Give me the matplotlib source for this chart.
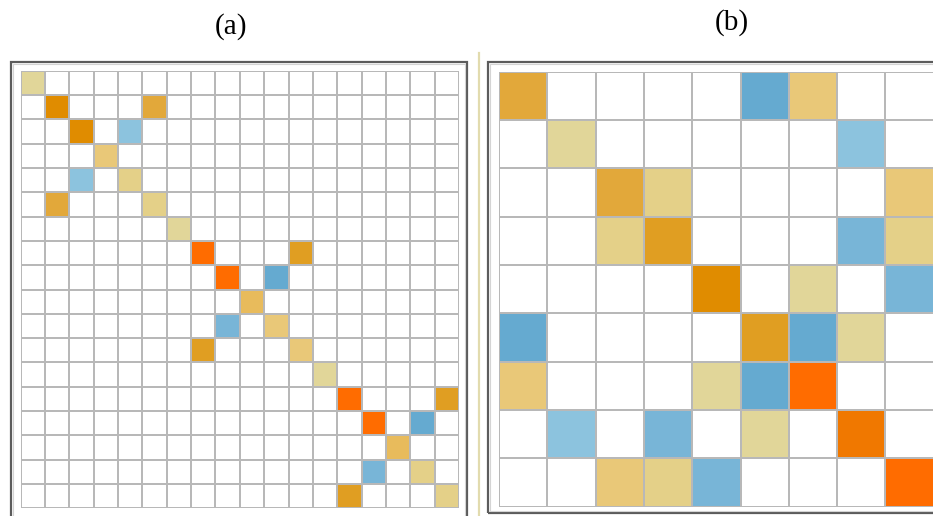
import numpy as np
import matplotlib
matplotlib.use("Agg")
from matplotlib import pyplot as plt
from matplotlib.colors import ListedColormap, BoundaryNorm
from matplotlib.patches import Rectangle
from matplotlib.lines import Line2D

W, H = 933, 516

# colour levels: negative = blue shades, 0 = empty, positive = khaki -> red-orange
level_values = [-3, -2, -1, 0, 1, 2, 3, 4, 5, 6, 7, 8, 9]
level_colors = ["#65aad0", "#78b5d7", "#8cc3de", "#ffffff",
                "#e1d699", "#e4d088", "#e9c878", "#e8bb5c", "#e2a83a",
                "#e09e22", "#e08c00", "#f07800", "#ff6c00"]

# panel (a): 18 x 18 matrix, three 6 x 6 blocks along the diagonal
a_size = 18
a_rows = [0, 1, 1, 2, 2, 3, 4, 4, 5, 5, 6, 7, 7, 8, 8, 9, 10, 10, 11, 11,
          12, 13, 13, 14, 14, 15, 16, 16, 17, 17]
a_cols = [0, 1, 5, 2, 4, 3, 2, 4, 1, 5, 6, 7, 11, 8, 10, 9, 8, 10, 7, 11,
          12, 13, 17, 14, 16, 15, 14, 16, 13, 17]
a_levels = [1, 7, 5, 7, -1, 3, -1, 2, 5, 2, 1, 9, 6, 9, -3, 4, -2, 3, 6, 3,
            1, 9, 6, 9, -3, 4, -2, 2, 6, 2]

# panel (b): 9 x 9 matrix
b_size = 9
b_rows = [0, 0, 0, 1, 1, 2, 2, 2, 3, 3, 3, 3, 4, 4, 4, 5, 5, 5, 5,
          6, 6, 6, 6, 7, 7, 7, 7, 8, 8, 8, 8]
b_cols = [0, 5, 6, 1, 7, 2, 3, 8, 2, 3, 7, 8, 4, 6, 8, 0, 5, 6, 7,
          0, 4, 5, 6, 1, 3, 5, 7, 2, 3, 4, 8]
b_levels = [5, -3, 3, 1, -1, 5, 2, 3, 2, 6, -2, 2, 7, 1, -2, -3, 6, -3, 1,
            3, 1, -3, 9, -1, -2, 1, 8, 3, 2, -2, 9]

cmap = ListedColormap(level_colors)
bounds = np.arange(min(level_values) - 0.5, max(level_values) + 1.5, 1)
norm = BoundaryNorm(bounds, cmap.N)


def px_axes(fig, x0, y0, x1, y1):
    # pixel box (top-left origin) -> figure axes
    return fig.add_axes([x0 / W, 1 - y1 / H, (x1 - x0) / W, (y1 - y0) / H])


def px_rect(fig, x0, y0, x1, y1, **kw):
    r = Rectangle((x0 / W, 1 - y1 / H), (x1 - x0) / W, (y1 - y0) / H,
                  transform=fig.transFigure, fill=False, **kw)
    fig.add_artist(r)


def build(n, rows, cols, levels):
    m = np.zeros((n, n))
    for r, c, v in zip(rows, cols, levels):
        m[r, c] = v
    return m


def draw_grid(ax, m, lw):
    ax.pcolormesh(np.arange(m.shape[1] + 1), np.arange(m.shape[0] + 1), m,
                  cmap=cmap, norm=norm, edgecolors="#b8b8b8", linewidth=lw)
    ax.set_xlim(0, m.shape[1])
    ax.set_ylim(m.shape[0], 0)
    ax.set_axis_off()


fig = plt.figure(figsize=(W / 100, H / 100), dpi=100)
fig.patch.set_facecolor("white")

# outer frames
px_rect(fig, 11, 61.5, 466.5, 530, edgecolor="#5c5c5c", linewidth=1.6)
px_rect(fig, 13, 63.5, 464.5, 530, edgecolor="#d4d4d4", linewidth=0.8)
px_rect(fig, 488.5, 62, 950, 513, edgecolor="#5c5c5c", linewidth=1.6)
px_rect(fig, 490.5, 64, 950, 511, edgecolor="#d4d4d4", linewidth=0.8)

# thin separator between the two panels
fig.add_artist(Line2D([479 / W, 479 / W], [0, 1 - 53 / H],
                      transform=fig.transFigure, color="#e2dbae", linewidth=1.6))

ax_a = px_axes(fig, 20.7, 70.7, 459, 508.3)
draw_grid(ax_a, build(a_size, a_rows, a_cols, a_levels), 1.15)

ax_b = px_axes(fig, 499, 71.7, 499 + 9 * 48.3, 506.7)
draw_grid(ax_b, build(b_size, b_rows, b_cols, b_levels), 1.2)

fig.text(231 / W, 1 - 27 / H, "(a)", ha="center", va="center",
         family="Liberation Serif", fontsize=21)
fig.text(732 / W, 1 - 22.5 / H, "(b)", ha="center", va="center",
         family="Liberation Serif", fontsize=21)

fig.savefig("out.png", dpi=100)
